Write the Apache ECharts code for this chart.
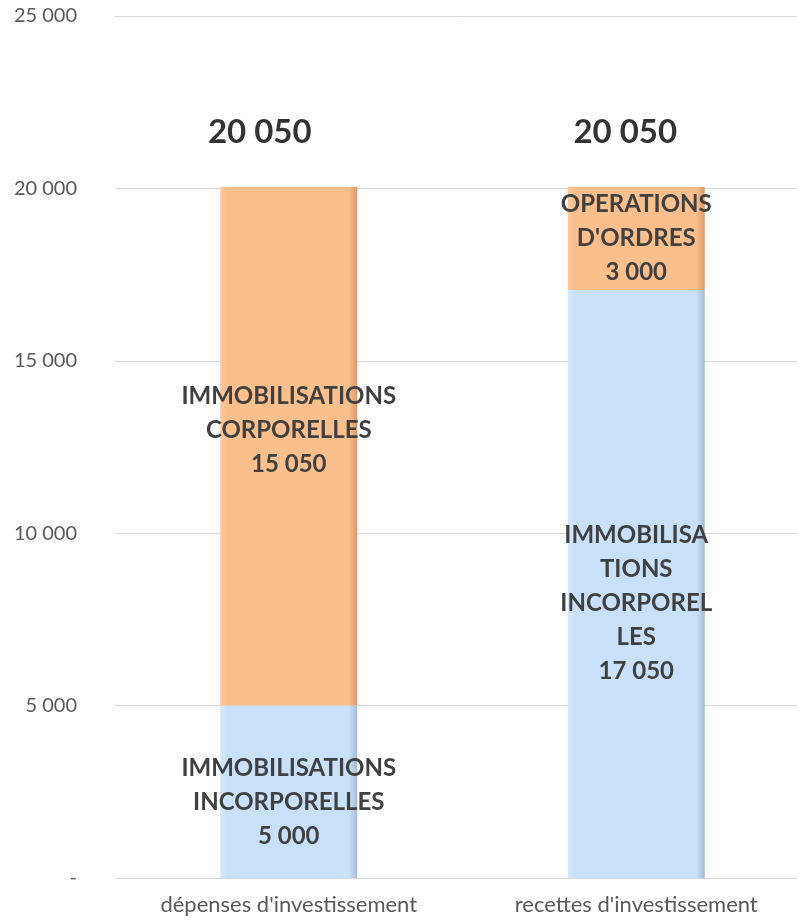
<!DOCTYPE html>
<html>
<head>
<meta charset="utf-8">
<title>Investissement</title>
<script src="https://cdn.jsdelivr.net/npm/echarts@6/dist/echarts.min.js"></script>
<style>
  html, body { margin: 0; padding: 0; background: #fff; overflow: hidden; }
  #main { width: 812px; height: 920px; }
</style>
</head>
<body>
<div id="main"></div>
<script type="text/javascript">
// data
var categories = ["dépenses d'investissement", "recettes d'investissement"];
var lowerValues = [5000, 17050];
var upperValues = [15050, 3000];
var lowerNames = ['IMMOBILISATIONS\nINCORPORELLES', 'IMMOBILISA\nTIONS\nINCORPOREL\nLES'];
var upperNames = ['IMMOBILISATIONS\nCORPORELLES', 'OPERATIONS\nD\'ORDRES'];

var totals = lowerValues.map(function (v, i) { return v + upperValues[i]; });

// label nudges (px), the Excel text boxes are not centred exactly
var lowerOffsets = [[0, 10], [0, 19]];
var upperOffsets = [[0, -16], [0, 0]];
var totalOffsets = [[-29, 0], [-11, 0]];

function fmt(v) {
    return String(v).replace(/\B(?=(\d{3})+(?!\d))/g, ' ');
}

function bevel(base, light, dark) {
    return {
        type: 'linear', x: 0, y: 0, x2: 1, y2: 0,
        colorStops: [
            { offset: 0, color: light },
            { offset: 0.05, color: base },
            { offset: 0.94, color: base },
            { offset: 1, color: dark }
        ]
    };
}

var blue = bevel('#c8e1f8', '#d4e9fb', '#a3bcd2');
var orange = bevel('#fbbe8d', '#fcc99c', '#d8996b');

var labelStyle = {
    show: true,
    position: 'inside',
    color: '#404040',
    fontFamily: 'Lato',
    fontWeight: 'bold',
    fontSize: 24,
    lineHeight: 34
};

var myChart = echarts.init(document.getElementById('main'));

var option = {
    animation: false,
    backgroundColor: '#fff',
    grid: { left: 115, right: 2, top: 16, bottom: 42 },
    xAxis: {
        type: 'category',
        data: categories,
        axisLine: { show: true, lineStyle: { color: '#d9d9d9', width: 1 } },
        axisTick: { show: false },
        axisLabel: { color: '#595959', fontFamily: 'Lato', fontSize: 22, margin: 16 }
    },
    yAxis: {
        type: 'value',
        min: 0,
        max: 25000,
        interval: 5000,
        axisLine: { show: false },
        axisTick: { show: false },
        splitLine: { lineStyle: { color: '#d9d9d9', width: 1 } },
        axisLabel: {
            color: '#595959',
            fontFamily: 'Lato',
            fontSize: 20,
            margin: 38,
            formatter: function (v) { return v === 0 ? '-' : fmt(v); }
        }
    },
    series: [{
        type: 'bar',
        stack: 'inv',
        barWidth: 137,
        itemStyle: { color: blue },
        data: lowerValues.map(function (v, i) {
            return {
                value: v,
                label: Object.assign({}, labelStyle, {
                    offset: lowerOffsets[i],
                    formatter: lowerNames[i] + '\n' + fmt(v)
                })
            };
        })
    }, {
        type: 'bar',
        stack: 'inv',
        barWidth: 137,
        itemStyle: { color: orange },
        data: upperValues.map(function (v, i) {
            return {
                value: v,
                label: Object.assign({}, labelStyle, {
                    offset: upperOffsets[i],
                    formatter: upperNames[i] + '\n' + fmt(v)
                })
            };
        })
    }, {
        type: 'scatter',
        symbolSize: 0,
        silent: true,
        data: totals.map(function (v, i) {
            return { value: v, label: { offset: totalOffsets[i] } };
        }),
        label: {
            show: true,
            position: 'top',
            distance: 38,
            color: '#000',
            fontFamily: 'Lato',
            fontWeight: 'bold',
            fontSize: 33,
            formatter: function (p) { return fmt(p.value); }
        }
    }]
};

myChart.setOption(option);
</script>
</body>
</html>
